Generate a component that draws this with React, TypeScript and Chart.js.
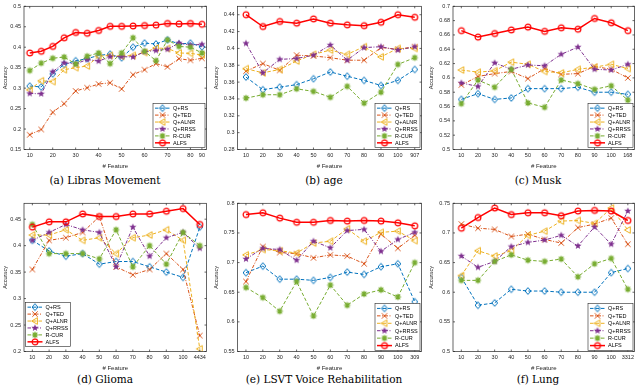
import React, { useEffect, useRef } from "react";
import { Chart, registerables } from "chart.js";

Chart.register(...registerables);

// ---------- series meta ----------
const SERIES_NAMES = ["Q+RS", "Q+TED", "Q+ALNR", "Q+RRSS", "R-CUR", "ALFS"];
const SERIES_COLORS = ["#0072BD", "#D95319", "#EDB120", "#7E2F8E", "#77AC30", "#FF0000"];
const SERIES_DASHES = [[3.5, 2], [3.5, 1.5, 1, 1.5], [3.5, 2], [3.5, 1.5, 1, 1.5], [3.5, 2], []];
const SERIES_WIDTHS = [1, 1, 1, 1, 1, 1.5];

// ---------- (a) Libras Movement ----------
const librasFeatures = ["10", "15", "20", "25", "30", "35", "40", "45", "50", "55", "60", "65", "70", "75", "80", "90"];
const librasTickLabels = ["10", "20", "30", "40", "50", "60", "70", "80", "90"];
const librasYTicks = [0.15, 0.2, 0.25, 0.3, 0.35, 0.4, 0.45, 0.5];
const librasRS = [0.305, 0.303, 0.335, 0.358, 0.367, 0.372, 0.38, 0.383, 0.374, 0.4, 0.41, 0.408, 0.418, 0.408, 0.41, 0.401];
const librasTED = [0.186, 0.199, 0.241, 0.262, 0.293, 0.301, 0.31, 0.313, 0.298, 0.333, 0.345, 0.36, 0.352, 0.372, 0.368, 0.373];
const librasALNR = [0.296, 0.318, 0.316, 0.345, 0.35, 0.354, 0.378, 0.38, 0.378, 0.38, 0.387, 0.398, 0.397, 0.386, 0.385, 0.381];
const librasRRSS = [0.287, 0.286, 0.34, 0.362, 0.359, 0.37, 0.366, 0.377, 0.377, 0.376, 0.389, 0.392, 0.395, 0.41, 0.405, 0.407];
const librasCUR = [0.343, 0.361, 0.373, 0.376, 0.359, 0.378, 0.386, 0.36, 0.386, 0.423, 0.39, 0.367, 0.418, 0.402, 0.4, 0.386];
const librasALFS = [0.386, 0.39, 0.402, 0.423, 0.436, 0.434, 0.441, 0.451, 0.451, 0.452, 0.453, 0.454, 0.458, 0.457, 0.458, 0.456];

// ---------- (b) age ----------
const ageFeatures = ["10", "20", "30", "40", "50", "60", "70", "80", "90", "100", "907"];
const ageYTicks = [0.28, 0.3, 0.32, 0.34, 0.36, 0.38, 0.4, 0.42, 0.44];
const ageRS = [0.366, 0.351, 0.354, 0.357, 0.364, 0.372, 0.367, 0.362, 0.356, 0.362, 0.375];
const ageTED = [0.373, 0.382, 0.374, 0.392, 0.391, 0.389, 0.386, 0.386, 0.401, 0.399, 0.402];
const ageALNR = [0.376, 0.371, 0.375, 0.385, 0.393, 0.398, 0.393, 0.402, 0.39, 0.4, 0.4];
const ageRRSS = [0.406, 0.371, 0.387, 0.388, 0.392, 0.404, 0.386, 0.401, 0.402, 0.398, 0.402];
const ageCUR = [0.341, 0.345, 0.345, 0.352, 0.349, 0.342, 0.355, 0.335, 0.348, 0.381, 0.389];
const ageALFS = [0.44, 0.426, 0.432, 0.43, 0.435, 0.43, 0.428, 0.427, 0.431, 0.44, 0.437];

// ---------- (c) Musk ----------
const muskFeatures = ["10", "20", "30", "40", "50", "60", "70", "80", "90", "100", "168"];
const muskYTicks = [0.5, 0.52, 0.54, 0.56, 0.58, 0.6, 0.62, 0.64, 0.66, 0.68, 0.7];
const muskRS = [0.57, 0.578, 0.57, 0.572, 0.585, 0.585, 0.585, 0.587, 0.58, 0.58, 0.577];
const muskTED = [0.59, 0.602, 0.606, 0.609, 0.599, 0.613, 0.605, 0.606, 0.616, 0.612, 0.6];
const muskALNR = [0.611, 0.608, 0.61, 0.622, 0.619, 0.609, 0.607, 0.612, 0.615, 0.619, 0.613];
const muskRRSS = [0.593, 0.588, 0.621, 0.612, 0.618, 0.617, 0.633, 0.643, 0.612, 0.611, 0.619];
const muskCUR = [0.564, 0.597, 0.587, 0.612, 0.565, 0.559, 0.597, 0.592, 0.584, 0.589, 0.569];
const muskALFS = [0.666, 0.657, 0.662, 0.667, 0.671, 0.665, 0.67, 0.668, 0.683, 0.677, 0.666];

// ---------- (d) Glioma ----------
const gliomaFeatures = ["10", "20", "30", "40", "50", "60", "70", "80", "90", "100", "4434"];
const gliomaYTicks = [0.2, 0.25, 0.3, 0.35, 0.4, 0.45];
const gliomaRS = [0.41, 0.39, 0.38, 0.385, 0.365, 0.37, 0.37, 0.36, 0.35, 0.34, 0.435];
const gliomaTED = [0.355, 0.41, 0.415, 0.425, 0.455, 0.36, 0.345, 0.355, 0.385, 0.355, 0.23];
const gliomaALNR = [0.42, 0.42, 0.43, 0.41, 0.415, 0.385, 0.415, 0.42, 0.43, 0.41, 0.205];
const gliomaRRSS = [0.41, 0.425, 0.44, 0.43, 0.425, 0.36, 0.435, 0.38, 0.415, 0.425, 0.395];
const gliomaCUR = [0.44, 0.385, 0.385, 0.385, 0.375, 0.43, 0.36, 0.4, 0.365, 0.425, 0.4];
const gliomaALFS = [0.435, 0.445, 0.445, 0.46, 0.455, 0.455, 0.46, 0.46, 0.465, 0.47, 0.44];

// ---------- (e) LSVT Voice Rehabilitation ----------
const lsvtFeatures = ["10", "20", "30", "40", "50", "60", "70", "80", "90", "100", "309"];
const lsvtYTicks = [0.55, 0.6, 0.65, 0.7, 0.75, 0.8];
const lsvtRS = [0.683, 0.694, 0.672, 0.672, 0.67, 0.675, 0.684, 0.68, 0.693, 0.698, 0.634];
const lsvtTED = [0.668, 0.727, 0.717, 0.715, 0.708, 0.713, 0.711, 0.698, 0.748, 0.724, 0.746];
const lsvtALNR = [0.713, 0.722, 0.72, 0.716, 0.733, 0.736, 0.757, 0.736, 0.751, 0.753, 0.737];
const lsvtRRSS = [0.706, 0.724, 0.722, 0.704, 0.736, 0.725, 0.754, 0.756, 0.719, 0.739, 0.751];
const lsvtCUR = [0.658, 0.641, 0.618, 0.668, 0.61, 0.662, 0.628, 0.647, 0.654, 0.642, 0.7];
const lsvtALFS = [0.781, 0.784, 0.775, 0.768, 0.768, 0.771, 0.77, 0.771, 0.77, 0.767, 0.762];

// ---------- (f) Lung ----------
const lungFeatures = ["10", "20", "30", "40", "50", "60", "70", "80", "90", "100", "3312"];
const lungYTicks = [0.5, 0.55, 0.6, 0.65, 0.7, 0.75];
const lungRS = [0.625, 0.578, 0.582, 0.605, 0.602, 0.602, 0.6, 0.6, 0.6, 0.633, 0.64];
const lungTED = [0.715, 0.708, 0.706, 0.694, 0.698, 0.689, 0.683, 0.709, 0.715, 0.725, 0.681];
const lungALNR = [0.628, 0.67, 0.661, 0.67, 0.696, 0.703, 0.72, 0.721, 0.716, 0.742, 0.705];
const lungRRSS = [0.661, 0.642, 0.652, 0.677, 0.684, 0.688, 0.696, 0.678, 0.71, 0.681, 0.737];
const lungCUR = [0.62, 0.62, 0.652, 0.663, 0.654, 0.652, 0.656, 0.626, 0.648, 0.657, 0.605];
const lungALFS = [0.708, 0.726, 0.742, 0.731, 0.734, 0.734, 0.729, 0.737, 0.738, 0.737, 0.721];

const SANS = '"Liberation Sans", Arial, Helvetica, sans-serif';
const INK = "#262626";

// ---------- markers ----------
let markerCache: HTMLCanvasElement[] | null = null;
function getMarkers(): HTMLCanvasElement[] {
  if (markerCache) return markerCache;
  const out: HTMLCanvasElement[] = [];
  for (let k = 0; k < 6; k++) {
    const s = 10;
    const c = document.createElement("canvas");
    c.width = s;
    c.height = s;
    const ctx = c.getContext("2d")!;
    const cx = s / 2, cy = s / 2;
    ctx.strokeStyle = SERIES_COLORS[k];
    ctx.fillStyle = SERIES_COLORS[k];
    ctx.lineWidth = 1;
    ctx.beginPath();
    if (k === 0) {
      ctx.moveTo(cx, cy - 3.4);
      ctx.lineTo(cx + 2.9, cy);
      ctx.lineTo(cx, cy + 3.4);
      ctx.lineTo(cx - 2.9, cy);
      ctx.closePath();
      ctx.stroke();
    } else if (k === 1) {
      const r = 2.7;
      ctx.moveTo(cx - r, cy - r); ctx.lineTo(cx + r, cy + r);
      ctx.moveTo(cx - r, cy + r); ctx.lineTo(cx + r, cy - r);
      ctx.stroke();
    } else if (k === 2) {
      ctx.moveTo(cx - 3.4, cy);
      ctx.lineTo(cx + 2.4, cy - 3.3);
      ctx.lineTo(cx + 2.4, cy + 3.3);
      ctx.closePath();
      ctx.stroke();
    } else if (k === 3) {
      const ro = 3.8, ri = 1.6;
      for (let i = 0; i < 10; i++) {
        const a = -Math.PI / 2 + (i * Math.PI) / 5;
        const r = i % 2 === 0 ? ro : ri;
        const x = cx + Math.cos(a) * r, y = cy + Math.sin(a) * r;
        if (i === 0) ctx.moveTo(x, y); else ctx.lineTo(x, y);
      }
      ctx.closePath();
      ctx.fill();
    } else if (k === 4) {
      ctx.lineWidth = 1.2;
      const r = 3.3;
      for (let i = 0; i < 4; i++) {
        const a = (i * Math.PI) / 4;
        ctx.moveTo(cx - Math.cos(a) * r, cy - Math.sin(a) * r);
        ctx.lineTo(cx + Math.cos(a) * r, cy + Math.sin(a) * r);
      }
      ctx.stroke();
      ctx.beginPath();
      ctx.arc(cx, cy, 1.5, 0, Math.PI * 2);
      ctx.fill();
    } else {
      ctx.lineWidth = 1.2;
      ctx.arc(cx, cy, 2.9, 0, Math.PI * 2);
      ctx.stroke();
    }
    out.push(c);
  }
  markerCache = out;
  return out;
}

type PanelSpec = {
  canvasLeft: number;
  canvasTop: number;
  canvasW: number;
  canvasH: number;
  plotLeft: number;
  plotRight: number;
  plotTop: number;
  plotBottom: number;
  features: string[];
  tickLabels: string[];
  yTicks: number[];
  yMin: number;
  yMax: number;
  series: number[][];
  legendLeft: boolean;
  legendW: number;
  legendH: number;
  legendMargin: number;
  ylabelX: number;
};

const X_AXIS_H = 20.1;

function Panel({ spec }: { spec: PanelSpec }) {
  const ref = useRef<HTMLCanvasElement>(null);
  useEffect(() => {
    const canvas = ref.current;
    if (!canvas) return;
    const markers = getMarkers();
    const n = spec.features.length;
    const tickIdx = spec.tickLabels.map((l) => spec.features.indexOf(l) + 1);
    const datasets = spec.series.map((vals, k) => ({
      label: SERIES_NAMES[k],
      data: vals.map((v, i) => ({ x: i + 1, y: v })),
      borderColor: SERIES_COLORS[k],
      backgroundColor: SERIES_COLORS[k],
      borderWidth: SERIES_WIDTHS[k],
      borderDash: SERIES_DASHES[k],
      pointStyle: markers[k] as any,
      pointRadius: 3,
      tension: 0,
      fill: false,
      order: 5 - k,
    }));

    const decor = {
      id: "decor",
      afterDatasetsDraw(chart: any) {
        const ctx = chart.ctx as CanvasRenderingContext2D;
        const a = chart.chartArea;
        ctx.save();
        ctx.setLineDash([]);
        ctx.strokeStyle = INK;
        ctx.lineWidth = 0.7;
        ctx.strokeRect(a.left, a.top, a.right - a.left, a.bottom - a.top);
        // inward ticks
        const tl = 2;
        ctx.beginPath();
        const xs = chart.scales.x;
        for (const t of xs.ticks) {
          const px = xs.getPixelForValue(t.value);
          ctx.moveTo(px, a.bottom); ctx.lineTo(px, a.bottom - tl);
          ctx.moveTo(px, a.top); ctx.lineTo(px, a.top + tl);
        }
        const ys = chart.scales.y;
        for (const t of ys.ticks) {
          const py = ys.getPixelForValue(t.value);
          ctx.moveTo(a.left, py); ctx.lineTo(a.left + tl, py);
          ctx.moveTo(a.right, py); ctx.lineTo(a.right - tl, py);
        }
        ctx.stroke();

        // legend
        const w = spec.legendW, h = spec.legendH, m = spec.legendMargin;
        const lx = spec.legendLeft ? a.left + 1.5 : a.right - 1.5 - w;
        const ly = a.bottom - m - h;
        ctx.fillStyle = "#ffffff";
        ctx.fillRect(lx, ly, w, h);
        ctx.strokeStyle = INK;
        ctx.lineWidth = 0.6;
        ctx.strokeRect(lx, ly, w, h);
        const padV = 1.2;
        const rowH = (h - 2 * padV) / SERIES_NAMES.length;
        ctx.font = `5.5px ${SANS}`;
        ctx.textBaseline = "middle";
        ctx.textAlign = "left";
        SERIES_NAMES.forEach((name, k) => {
          const cy = ly + padV + rowH * (k + 0.5);
          ctx.save();
          ctx.strokeStyle = SERIES_COLORS[k];
          ctx.lineWidth = SERIES_WIDTHS[k];
          ctx.setLineDash(SERIES_DASHES[k]);
          ctx.beginPath();
          ctx.moveTo(lx + 2, cy);
          ctx.lineTo(lx + 17, cy);
          ctx.stroke();
          ctx.restore();
          const mk = markers[k];
          ctx.drawImage(mk, lx + 9.5 - mk.width / 2, cy - mk.height / 2);
          ctx.fillStyle = "#000000";
          ctx.fillText(name, lx + 20, cy + 0.3);
        });
        ctx.restore();
      },
    };

    const chart = new Chart(canvas, {
      type: "line",
      data: { datasets: datasets as any },
      options: {
        animation: false,
        responsive: false,
        maintainAspectRatio: false,
        events: [],
        layout: {
          padding: {
            left: 0,
            top: spec.plotTop - spec.canvasTop,
            right: spec.canvasLeft + spec.canvasW - spec.plotRight,
            bottom: spec.canvasTop + spec.canvasH - spec.plotBottom - X_AXIS_H,
          },
        },
        plugins: {
          legend: { display: false },
          tooltip: { enabled: false },
        },
        scales: {
          x: {
            type: "linear",
            min: 0.5,
            max: n + 0.4,
            grid: { display: false, drawTicks: false },
            border: { display: false },
            afterBuildTicks: (s: any) => {
              s.ticks = tickIdx.map((v) => ({ value: v }));
            },
            afterFit: (s: any) => {
              s.height = X_AXIS_H;
            },
            ticks: {
              autoSkip: false,
              maxRotation: 0,
              minRotation: 0,
              padding: 3,
              color: INK,
              font: { family: SANS, size: 5.5 },
              callback: (v: any) => {
                const i = Math.round(Number(v)) - 1;
                return spec.features[i] ?? "";
              },
            },
            title: {
              display: true,
              text: "# Feature",
              color: INK,
              font: { family: SANS, size: 6 },
              padding: { top: 0, bottom: 0 },
            },
          },
          y: {
            type: "linear",
            min: spec.yMin,
            max: spec.yMax,
            grid: { display: false, drawTicks: false },
            border: { display: false },
            afterBuildTicks: (s: any) => {
              s.ticks = spec.yTicks.map((v) => ({ value: v }));
            },
            afterFit: (s: any) => {
              s.width = spec.plotLeft - spec.canvasLeft;
            },
            ticks: {
              autoSkip: false,
              padding: 3,
              color: INK,
              font: { family: SANS, size: 5.5 },
              callback: (v: any) => String(parseFloat(Number(v).toFixed(4))),
            },
            title: {
              display: true,
              text: "Accuracy",
              color: INK,
              font: { family: SANS, size: 5.5 },
              padding: { top: spec.ylabelX - spec.canvasLeft - 3.3, bottom: 0 },
            },
          },
        },
      },
      plugins: [decor],
    });
    return () => chart.destroy();
  }, [spec]);

  return (
    <canvas
      ref={ref}
      width={spec.canvasW}
      height={spec.canvasH}
      style={{
        position: "absolute",
        left: spec.canvasLeft,
        top: spec.canvasTop,
        width: spec.canvasW,
        height: spec.canvasH,
      }}
    />
  );
}

const COLS = [
  { canvasLeft: 0, canvasW: 212, plotLeft: 24, plotRight: 208.5, ylabelX: 5.5, capX: 105 },
  { canvasLeft: 212, canvasW: 215, plotLeft: 237.5, plotRight: 422, ylabelX: 216, capX: 324 },
  { canvasLeft: 427, canvasW: 213, plotLeft: 453, plotRight: 636, ylabelX: 431, capX: 538 },
];
const ROWS = [
  { canvasTop: 0, canvasH: 171, plotTop: 3.5, plotBottom: 149.5, capY: 180 },
  { canvasTop: 190, canvasH: 182, plotTop: 203.3, plotBottom: 351.5, capY: 379 },
];

function spec(col: number, row: number, extra: Partial<PanelSpec> & Pick<PanelSpec, "features" | "tickLabels" | "yTicks" | "yMin" | "yMax" | "series">): PanelSpec {
  const c = COLS[col], r = ROWS[row];
  return {
    canvasLeft: c.canvasLeft,
    canvasW: c.canvasW,
    plotLeft: c.plotLeft,
    plotRight: c.plotRight,
    ylabelX: c.ylabelX,
    canvasTop: r.canvasTop,
    canvasH: r.canvasH,
    plotTop: r.plotTop,
    plotBottom: r.plotBottom,
    legendLeft: false,
    legendW: 45,
    legendH: 44,
    legendMargin: 2,
    ...extra,
  } as PanelSpec;
}

const PANELS: PanelSpec[] = [
  spec(0, 0, {
    features: librasFeatures, tickLabels: librasTickLabels, yTicks: librasYTicks, yMin: 0.15, yMax: 0.5,
    series: [librasRS, librasTED, librasALNR, librasRRSS, librasCUR, librasALFS], legendW: 52,
  }),
  spec(1, 0, {
    features: ageFeatures, tickLabels: ageFeatures, yTicks: ageYTicks, yMin: 0.28, yMax: 0.45,
    series: [ageRS, ageTED, ageALNR, ageRRSS, ageCUR, ageALFS],
  }),
  spec(2, 0, {
    features: muskFeatures, tickLabels: muskFeatures, yTicks: muskYTicks, yMin: 0.5, yMax: 0.7,
    series: [muskRS, muskTED, muskALNR, muskRRSS, muskCUR, muskALFS],
  }),
  spec(0, 1, {
    features: gliomaFeatures, tickLabels: gliomaFeatures, yTicks: gliomaYTicks, yMin: 0.2, yMax: 0.48,
    series: [gliomaRS, gliomaTED, gliomaALNR, gliomaRRSS, gliomaCUR, gliomaALFS],
    legendLeft: true, legendMargin: 5,
  }),
  spec(1, 1, {
    features: lsvtFeatures, tickLabels: lsvtFeatures, yTicks: lsvtYTicks, yMin: 0.55, yMax: 0.8,
    series: [lsvtRS, lsvtTED, lsvtALNR, lsvtRRSS, lsvtCUR, lsvtALFS], legendH: 47, legendMargin: 1,
  }),
  spec(2, 1, {
    features: lungFeatures, tickLabels: lungFeatures, yTicks: lungYTicks, yMin: 0.5, yMax: 0.75,
    series: [lungRS, lungTED, lungALNR, lungRRSS, lungCUR, lungALFS], legendH: 47, legendMargin: 1,
  }),
];

const CAPTIONS = [
  "(a) Libras Movement",
  "(b) age",
  "(c) Musk",
  "(d) Glioma",
  "(e) LSVT Voice Rehabilitation",
  "(f) Lung",
];

export default function App() {
  return (
    <div
      style={{
        position: "fixed",
        left: 0,
        top: 0,
        width: 640,
        height: 387,
        background: "#ffffff",
        overflow: "hidden",
      }}
    >
      {PANELS.map((p, i) => (
        <Panel key={i} spec={p} />
      ))}
      {CAPTIONS.map((t, i) => {
        const c = COLS[i % 3], r = ROWS[Math.floor(i / 3)];
        return (
          <div
            key={"cap" + i}
            style={{
              position: "absolute",
              left: c.capX - 110,
              width: 220,
              top: r.capY - 7,
              height: 14,
              lineHeight: "14px",
              textAlign: "center",
              fontFamily: '"DejaVu Serif", "Liberation Serif", serif',
              fontSize: 10.5,
              color: "#000",
              whiteSpace: "nowrap",
            }}
          >
            {t}
          </div>
        );
      })}
    </div>
  );
}
